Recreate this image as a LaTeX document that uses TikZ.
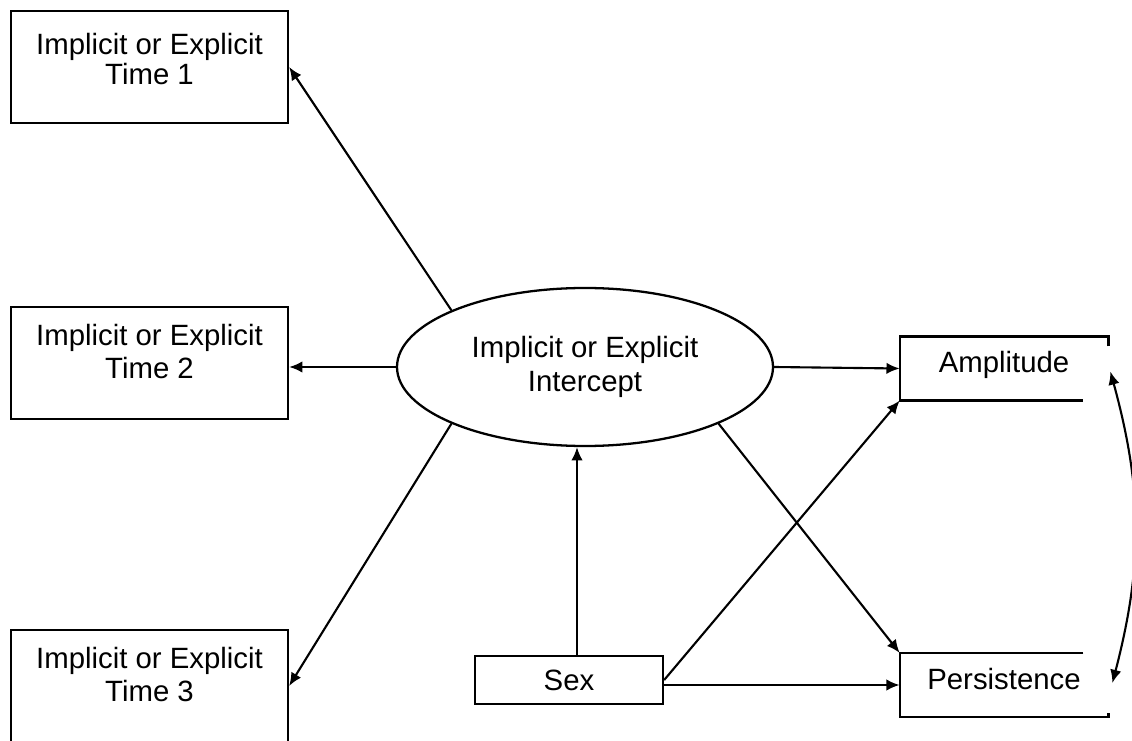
\documentclass[tikz,border=0pt]{standalone}
\usepackage{fontspec}
\setmainfont{Liberation Sans}
\usetikzlibrary{shapes.geometric, arrows.meta, calc}
\tikzstyle{timebox} = [rectangle, draw, line width=1.3pt, text centered, align=center,
                       minimum width=5.54cm, minimum height=2.24cm, inner sep=0pt,
                       font=\fontsize{16.7}{18.8}\selectfont, text depth=13.6pt]
\tikzstyle{latent} = [ellipse, draw, line width=1.3pt, text centered, align=center,
                      minimum width=7.52cm, minimum height=3.16cm, inner sep=0pt,
                      font=\fontsize{16.7}{19.3}\selectfont]
\tikzstyle{outcome} = [rectangle, text centered, minimum width=4.16cm,
                       minimum height=1.27cm, inner sep=0pt, text depth=7.4pt,
                       font=\fontsize{16.7}{18.8}\selectfont]
\tikzstyle{border} = [line width=1.3pt]
\tikzstyle{arrow} = [line width=1.2pt, >={Latex[length=7.5pt,width=6.5pt]}]

\begin{document}
\begin{tikzpicture}
\clip (0,0) rectangle (22.64cm,-14.82cm);

\node (t1) [timebox, text depth=9pt, xshift=2.99cm, yshift=-1.34cm]
  {Implicit or Explicit\\[-1.5pt]Time 1};
\node (t2) [timebox, xshift=2.99cm, yshift=-7.26cm] {Implicit or Explicit\\Time 2};
\node (t3) [timebox, xshift=2.99cm, yshift=-13.72cm] {Implicit or Explicit\\Time 3};

\node (icpt) [latent, xshift=11.70cm, yshift=-7.34cm] {Implicit or Explicit\\Intercept};

\node (sex) [rectangle, draw, line width=1.3pt, minimum width=3.76cm, minimum height=0.96cm,
             inner sep=0pt, font=\fontsize{16.7}{18.8}\selectfont,
             xshift=11.38cm, yshift=-13.60cm] {Sex};

\node (amp) [outcome, xshift=20.08cm, yshift=-7.37cm] {Amplitude};
\node (pers) [outcome, xshift=20.08cm, yshift=-13.70cm] {Persistence};

% open outlines of the two outcome boxes
\draw [border] ($(amp.north east)+(0,-0.2)$) -- (amp.north east) -- (amp.north west)
  -- (amp.south west) -- ($(amp.south east)+(-0.5,0)$);
\draw [border] ($(pers.north east)+(-0.5,0)$) -- (pers.north west) -- (pers.south west)
  -- (pers.south east) -- ($(pers.south east)+(0,0.08)$);

\draw [arrow,->] (icpt.157) -- (t1.east);
\draw [arrow,->] (icpt.west) -- (icpt.west -| t2.east);
\draw [arrow,->] (icpt.203) -- (t3.east);

\draw [arrow,->] ([xshift=0.16cm]sex.north) -- ([xshift=0.16cm]sex.north |- icpt.south);

\draw [arrow,->] (icpt.east) -- (amp.west);
\draw [arrow,->] (icpt.-23) -- (pers.north west);
\draw [arrow,->] (sex.east) -- (amp.south west);
\draw [arrow,->] (pers.west -| sex.east) -- (pers.west);

\draw [arrow,<->] ([xshift=0.04cm,yshift=-0.06cm]amp.east) to[bend left=15]
  ([xshift=0.08cm,yshift=0.04cm]pers.east);

\end{tikzpicture}
\end{document}
